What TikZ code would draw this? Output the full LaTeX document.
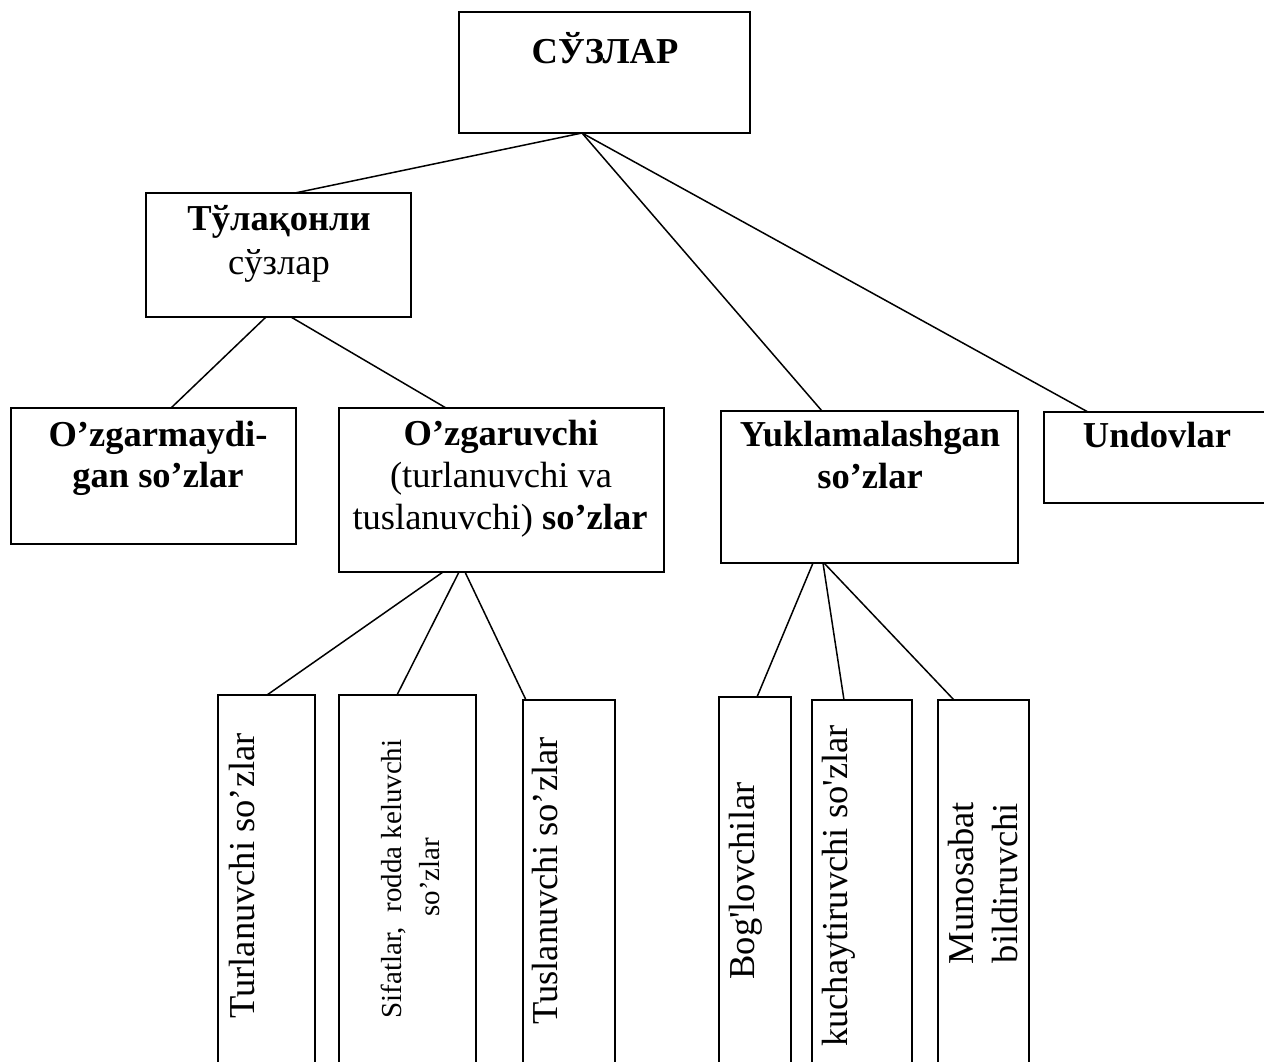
\documentclass[tikz,border=0pt]{standalone}
\usepackage{fontspec}
\setmainfont{Liberation Serif}[Ligatures=TeXOff]
\begin{document}
\begin{tikzpicture}[x=1pt,y=-1pt,
  box/.style={draw,line width=1.6pt,inner sep=0pt,outer sep=0pt,anchor=north west},
  lnk/.style={line width=1.5pt},
  big/.style={inner sep=0pt,anchor=base,font=\fontsize{36.5}{42}\selectfont},
  bigb/.style={big,font=\fontsize{36.5}{42}\selectfont\bfseries},
  small/.style={inner sep=0pt,anchor=base,font=\fontsize{29}{34}\selectfont},
  vert/.style={rotate=90}]
\clip (0,0) rectangle (1264,1061);
\fill[white] (0,0) rectangle (1264,1061);
% boxes
\node[box,minimum width=291pt,minimum height=121pt] (top) at (459,12) {};
\node[box,minimum width=265pt,minimum height=124pt] (tul) at (146,193) {};
\node[box,minimum width=285pt,minimum height=136pt] (ozm) at (11,408) {};
\node[box,minimum width=325pt,minimum height=164pt] (ozg) at (339,408) {};
\node[box,minimum width=297pt,minimum height=152pt] (yuk) at (721,411) {};
\node[box,minimum width=228pt,minimum height=91pt] (und) at (1044,412) {};
\node[box,minimum width=97pt,minimum height=373pt] (v1) at (218,695) {};
\node[box,minimum width=137pt,minimum height=373pt] (v2) at (339,695) {};
\node[box,minimum width=92pt,minimum height=368pt] (v3) at (523,700) {};
\node[box,minimum width=72pt,minimum height=371pt] (v4) at (719,697) {};
\node[box,minimum width=100pt,minimum height=368pt] (v5) at (812,700) {};
\node[box,minimum width=91pt,minimum height=368pt] (v6) at (938,700) {};
% texts
\node[bigb] (t-top) at (605,63) {СЎЗЛАР};
\node[bigb] (t-tul1) at (279,230) {Тўлақонли};
\node[big] (t-tul2) at (279,274) {сўзлар};
\node[bigb] (t-ozm1) at (158,446) {O’zgarmaydi-};
\node[bigb] (t-ozm2) at (158,487) {gan so’zlar};
\node[bigb] (t-ozg1) at (501,445) {O’zgaruvchi};
\node[big] (t-ozg2) at (501,487) {(turlanuvchi va};
\node[big] (t-ozg3) at (500,529) {tuslanuvchi) \textbf{so’zlar}};
\node[bigb] (t-yuk1) at (870,446) {Yuklamalashgan};
\node[bigb] (t-yuk2) at (870,488) {so’zlar};
\node[bigb] (t-und) at (1157,447) {Undovlar};
\node[big,vert] (t-v1) at (254,876) {Turlanuvchi so’zlar};
\node[small,vert] (t-v2a) at (401,879) {Sifatlar,\ \ rodda keluvchi};
\node[small,vert] (t-v2b) at (439,877) {so’zlar};
\node[big,vert] (t-v3) at (557,881) {Tuslanuvchi so’zlar};
\node[big,vert] (t-v4) at (754,881) {Bog'lovchilar};
\node[big,vert] (t-v5) at (847,886) {kuchaytiruvchi so'zlar};
\node[big,vert] (t-v6a) at (973,883) {Munosabat};
\node[big,vert] (t-v6b) at (1017,883) {bildiruvchi};
% connectors
\draw[lnk] ([xshift=123pt]top.south west) -- ([xshift=149pt]tul.north west);
\draw[lnk] ([xshift=123pt]top.south west) -- ([xshift=101pt]yuk.north west);
\draw[lnk] ([xshift=123pt]top.south west) -- ([xshift=44pt]und.north west);
\draw[lnk] ([xshift=120pt]tul.south west) -- ([xshift=160pt]ozm.north west);
\draw[lnk] ([xshift=145pt]tul.south west) -- ([xshift=107pt]ozg.north west);
\draw[lnk] ([xshift=104pt]ozg.south west) -- ([xshift=49pt]v1.north west);
\draw[lnk] ([xshift=120pt]ozg.south west) -- ([xshift=58pt]v2.north west);
\draw[lnk] ([xshift=126pt]ozg.south west) -- ([xshift=3pt]v3.north west);
\draw[lnk] ([xshift=92pt]yuk.south west) -- ([xshift=38pt]v4.north west);
\draw[lnk] ([xshift=102pt]yuk.south west) -- ([xshift=32pt]v5.north west);
\draw[lnk] ([xshift=103pt]yuk.south west) -- ([xshift=16pt]v6.north west);
\end{tikzpicture}
\end{document}
